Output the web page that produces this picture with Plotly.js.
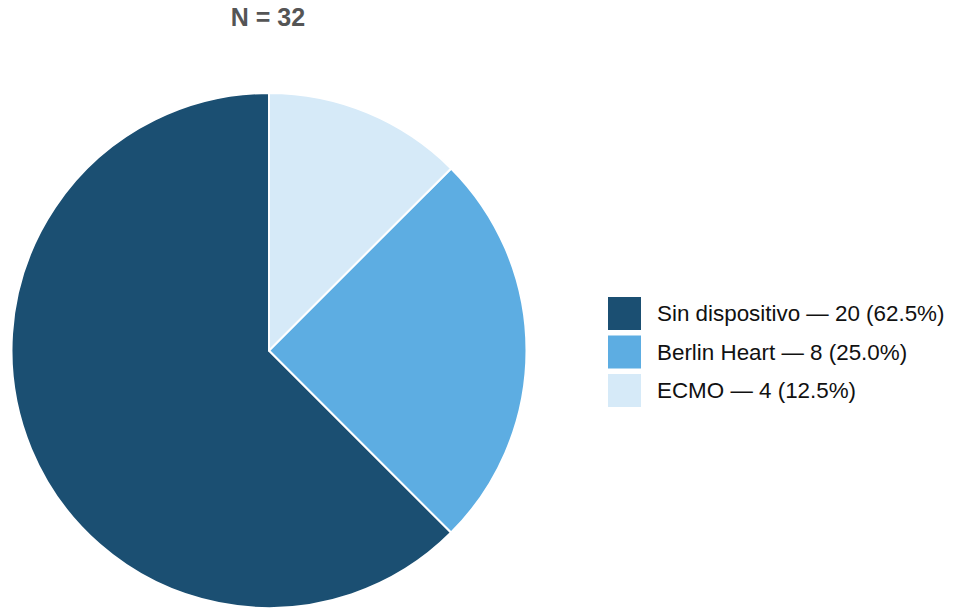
<!DOCTYPE html>
<html>
<head>
<meta charset="utf-8">
<script src="https://cdn.plot.ly/plotly-3.0.1.min.js"></script>
<style>html,body{margin:0;padding:0;background:#fff;}#chart{width:953px;height:608px;}</style>
</head>
<body>
<div id="chart"></div>
<script>
const categories = ["Sin dispositivo", "Berlin Heart", "ECMO"];
const counts = [20, 8, 4];
const colors = ["#1B4F72", "#5DADE2", "#D6EAF8"];
const titleText = "N = 32";

const total = counts.reduce((a, b) => a + b, 0);
const labels = categories.map((c, i) => c + " — " + counts[i] + " (" + (100 * counts[i] / total).toFixed(1) + "%)");

const W = 953, H = 608;
const trace = {
  type: "pie",
  labels: labels,
  values: counts,
  sort: false,
  direction: "counterclockwise",
  rotation: 135,
  marker: { colors: colors, line: { color: "#ffffff", width: 2 } },
  textinfo: "none",
  hoverinfo: "none",
  showlegend: false,
  domain: { x: [11 / W, 527 / W], y: [0, 1 - 93 / H] }
};

// custom legend (large swatches)
const shapes = [], annotations = [];
const legX0 = 608, sw = 33, pitch = 38.5, legY0 = 297;
labels.forEach((lab, i) => {
  const y0 = legY0 + i * pitch;
  shapes.push({
    type: "rect", xref: "paper", yref: "paper",
    x0: legX0 / W, x1: (legX0 + sw) / W,
    y0: 1 - (y0 + sw) / H, y1: 1 - y0 / H,
    fillcolor: colors[i], line: { width: 0 }
  });
  annotations.push({
    xref: "paper", yref: "paper",
    x: 655 / W, y: 1 - (y0 + sw / 2) / H,
    xanchor: "left", yanchor: "middle",
    text: lab, showarrow: false,
    font: { family: "Liberation Sans, Arial, sans-serif", size: 22.4, color: "#111111" }
  });
});

const layout = {
  width: W, height: H,
  margin: { l: 0, r: 0, t: 0, b: 0 },
  paper_bgcolor: "#ffffff",
  title: {
    text: "<b>" + titleText + "</b>",
    x: 268 / W, xref: "paper", xanchor: "center",
    y: 1 - 17 / H, yref: "container", yanchor: "middle",
    font: { family: "Liberation Sans, Arial, sans-serif", size: 25, color: "#555555" }
  },
  shapes: shapes,
  annotations: annotations,
  showlegend: false
};

Plotly.newPlot("chart", [trace], layout, { displayModeBar: false, staticPlot: true });
</script>
</body>
</html>
